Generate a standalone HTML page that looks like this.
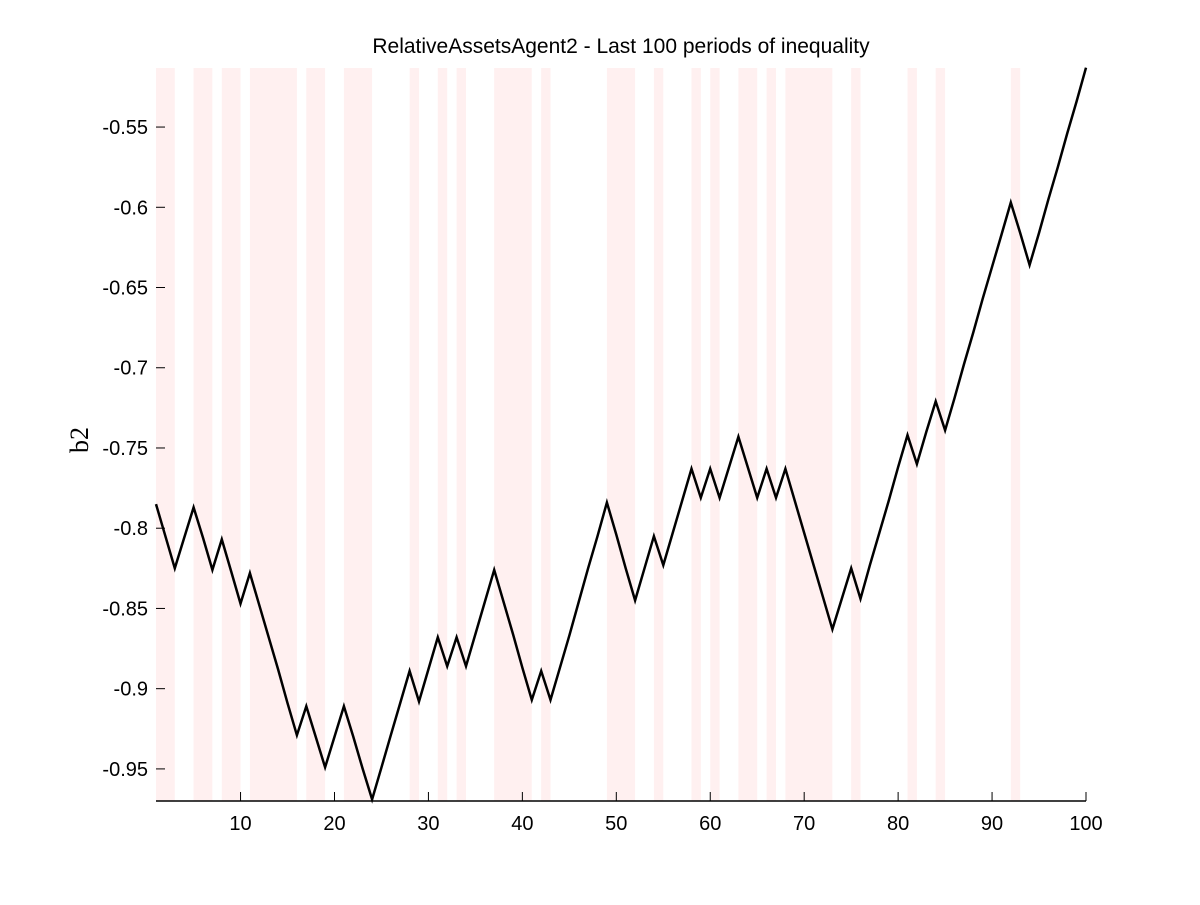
<!DOCTYPE html>
<html><head><meta charset="utf-8"><style>
body{margin:0;background:#fff;}
svg text{font-family:"Liberation Sans",sans-serif;}
</style></head><body>
<svg id="chart" width="1200" height="900">
<rect width="1200" height="900" fill="#fff"/>
<g id="bands"></g><g id="axes"></g><g id="series"></g>
<text x="621" y="53" font-size="21" text-anchor="middle">RelativeAssetsAgent2 - Last 100 periods of inequality</text>
<text transform="translate(88,440) rotate(-90)" font-size="26" text-anchor="middle" style="font-family:'Liberation Serif',serif">b2</text>
</svg>
<script>
const values=[-0.785,-0.805,-0.825,-0.806,-0.787,-0.806,-0.826,-0.807,-0.827,-0.847,
-0.828,-0.848,-0.868,-0.888,-0.909,-0.929,-0.911,-0.930,-0.949,-0.930,
-0.911,-0.930,-0.950,-0.969,-0.949,-0.929,-0.909,-0.889,-0.908,-0.888,
-0.868,-0.886,-0.868,-0.886,-0.866,-0.846,-0.826,-0.846,-0.866,-0.887,
-0.907,-0.889,-0.907,-0.887,-0.867,-0.846,-0.825,-0.805,-0.784,-0.804,
-0.825,-0.845,-0.825,-0.805,-0.823,-0.803,-0.783,-0.763,-0.781,-0.763,
-0.781,-0.762,-0.743,-0.762,-0.781,-0.763,-0.781,-0.763,-0.783,-0.803,
-0.823,-0.843,-0.863,-0.844,-0.825,-0.844,-0.823,-0.803,-0.783,-0.762,
-0.742,-0.760,-0.740,-0.721,-0.739,-0.719,-0.698,-0.678,-0.657,-0.637,
-0.617,-0.597,-0.616,-0.636,-0.616,-0.595,-0.575,-0.554,-0.534,-0.513];
const bandStarts=[1,5,8,11,17,21,28,31,33,37,42,49,54,58,60,63,66,68,75,81,84,92];
const bandEnds=[3,7,10,16,19,24,29,32,34,41,43,52,55,59,61,65,67,73,76,82,85,93];
const xTicks=[10,20,30,40,50,60,70,80,90,100];
const yTicks=[-0.95,-0.9,-0.85,-0.8,-0.75,-0.7,-0.65,-0.6,-0.55];
const yTickLabels=["-0.95","-0.9","-0.85","-0.8","-0.75","-0.7","-0.65","-0.6","-0.55"];
const L=156,R=1086,T=68,B=801,xMin=1,xMax=100,yMin=-0.9700,yMax=-0.5132;
const sx=v=>L+(v-xMin)/(xMax-xMin)*(R-L);
const sy=v=>B-(v-yMin)/(yMax-yMin)*(B-T);
const NS="http://www.w3.org/2000/svg";
function mk(tag,attrs,parent){const e=document.createElementNS(NS,tag);for(const k in attrs)e.setAttribute(k,attrs[k]);parent.appendChild(e);return e;}
const bg=document.getElementById('bands');
bandStarts.forEach((s,i)=>{
 const r=mk('rect',{x:sx(s),y:T,width:sx(bandEnds[i])-sx(s),height:B-T,fill:'#fff0f0'},bg);
 
 
});
const ax=document.getElementById('axes');
const xa=mk('line',{x1:L,y1:B,x2:R,y2:B,stroke:'#000','stroke-width':1.5},ax);


xTicks.forEach(t=>{
 mk('line',{x1:sx(t),y1:B,x2:sx(t),y2:B-9,stroke:'#000'},ax);
 const tx=mk('text',{x:sx(t),y:B+29,'font-size':20,'text-anchor':'middle'},ax);
 tx.textContent=t;
 
 
});
yTicks.forEach((t,i)=>{
 mk('line',{x1:L,y1:sy(t),x2:L+9,y2:sy(t),stroke:'#000'},ax);
 const tx=mk('text',{x:L-8,y:sy(t)+7,'font-size':20,'text-anchor':'end'},ax);
 tx.textContent=yTickLabels[i];
 
 
});
const pts=values.map((v,i)=>sx(i+1).toFixed(1)+','+sy(v).toFixed(1)).join(' ');
const pl=mk('polyline',{points:pts,fill:'none',stroke:'#000','stroke-width':2.5,'stroke-linejoin':'miter'},document.getElementById('series'));


</script>
</body></html>
